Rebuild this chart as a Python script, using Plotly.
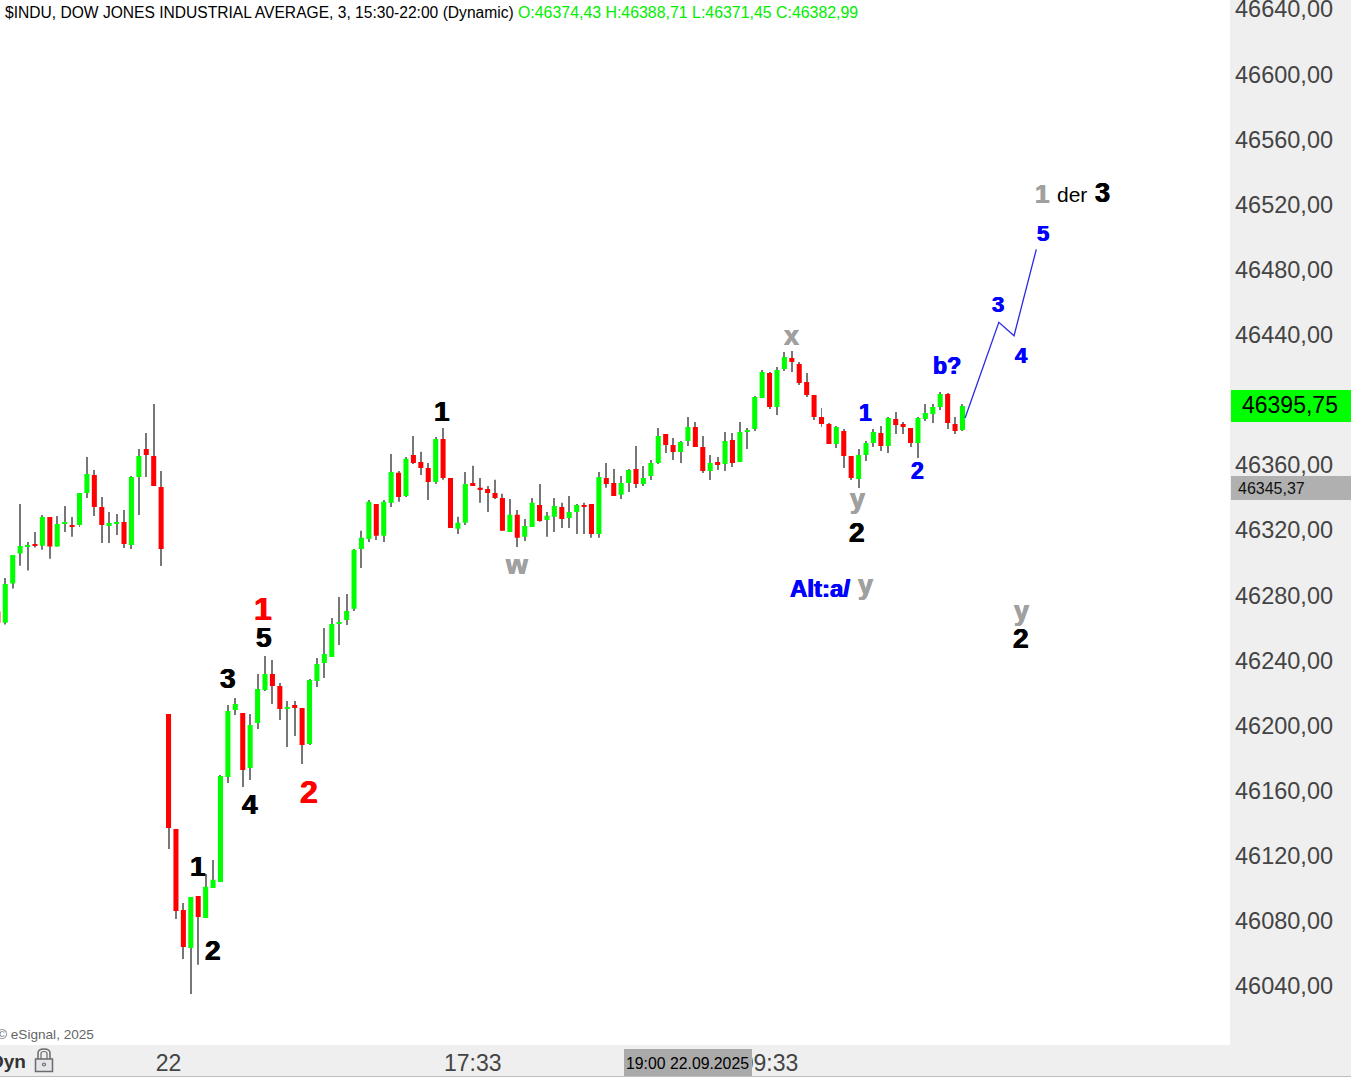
import plotly.graph_objects as go

candle_index = list(range(-1, 130))
open_ = [46270.0,46263.2,46287.2,46305.6,46309.7,46311.5,46310.5,46328.1,46309.9,46323.8,46323.2,46323.2,46342.8,46353.9,46334.2,46322.6,46323.8,46325.0,46310.9,46352.7,46369.9,46365.6,46346.5,
46207.1,46136.5,46086.7,46063.4,46095.3,46081.8,46100.2,46103.9,46168.4,46209.6,46207.7,46173.9,46201.6,46221.8,46231.7,46224.3,46210.2,46212.6,46210.8,46188.7,46227.4,46238.4,46242.1,46262.4,46264.8,46271.7,
46308.5,46314.6,46336.1,46316.5,46336.8,46355.2,46341.0,46366.2,46361.9,46358.2,46349.6,46376.0,46352.1,46320.8,46324.5,46349.0,46346.0,46345.3,46342.9,46339.8,46318.9,46329.4,46315.9,46322.0,46335.5,46326.3,46328.2,46334.3,46327.5,46331.2,46335.5,46336.1,46317.7,46352.1,46349.0,46341.7,
46349.0,46357.6,46348.4,46353.3,46361.3,46379.0,46372.3,46368.0,46374.8,46383.4,46371.1,46356.4,46361.9,46360.6,46375.4,46361.9,46380.3,46382.1,46401.2,46416.5,46395.7,46419.0,46425.7,46422.1,46411.0,
46403.0,46389.5,46385.2,46372.9,46380.9,46365.6,46351.4,46366.2,46373.5,46379.7,46371.7,46388.3,46385.2,46382.8,46373.5,46388.3,46391.4,46395.7,46403.6,46385.2,46381.5]
high = [46270.0,46290.6,46304.8,46336.1,46312.8,46318.9,46329.3,46328.1,46328.7,46334.9,46328.1,46342.8,46364.9,46357.0,46340.4,46331.2,46330.0,46332.4,46353.3,46369.9,46379.7,46397.5,46356.4,
46207.1,46136.5,46091.0,46094.7,46095.3,46108.8,46117.4,46169.6,46212.6,46216.9,46207.7,46207.1,46231.7,46242.7,46240.3,46226.1,46215.1,46215.1,46210.8,46228.6,46241.5,46259.9,46266.0,46278.9,46280.8,46308.5,
46319.6,46338.6,46336.1,46338.6,46366.8,46356.4,46365.0,46377.9,46368.1,46361.3,46377.3,46382.8,46352.1,46328.2,46355.8,46359.5,46352.1,46347.2,46350.9,46342.3,46339.2,46332.4,46326.9,46339.8,46348.4,46331.2,46339.8,46336.8,46341.0,46336.1,46336.8,46336.1,46355.8,46361.3,46357.6,46353.3,
46357.6,46371.7,46359.4,46363.1,46382.8,46379.0,46376.6,46374.8,46389.5,46386.4,46377.8,46366.2,46365.0,46380.3,46379.7,46386.4,46382.8,46402.4,46418.4,46417.1,46420.2,46429.4,46430.0,46423.3,46416.5,
46403.0,46395.0,46385.8,46384.0,46382.1,46365.6,46369.9,46374.8,46382.1,46384.0,46389.5,46392.6,46386.4,46382.8,46389.5,46397.5,46397.5,46404.9,46404.2,46389.5,46397.5]
low = [46263.2,46262.0,46284.1,46298.2,46295.2,46309.3,46308.0,46302.5,46309.9,46318.9,46316.0,46322.0,46339.8,46328.7,46312.1,46312.1,46317.1,46309.1,46308.5,46329.3,46352.7,46347.1,46298.0,
46124.2,46081.2,46056.6,46035.1,46053.0,46081.8,46100.2,46103.9,46164.7,46206.5,46162.3,46166.6,46197.9,46221.2,46213.2,46203.4,46186.8,46193.6,46176.4,46188.1,46223.7,46229.2,46242.1,46249.5,46261.7,46270.4,
46296.8,46312.8,46314.0,46312.8,46334.3,46337.4,46340.4,46360.7,46353.9,46338.6,46348.4,46350.9,46321.4,46317.7,46323.2,46347.2,46336.8,46331.2,46339.2,46319.6,46318.9,46309.7,46313.4,46322.0,46325.1,46315.9,46318.9,46321.4,46321.4,46317.7,46317.7,46315.3,46315.3,46346.0,46341.0,46339.2,
46343.5,46345.9,46347.2,46350.8,46360.6,46367.4,46363.1,46361.3,46371.7,46371.1,46355.1,46350.8,46357.0,46356.4,46358.8,46361.9,46369.9,46380.9,46401.2,46394.4,46390.7,46417.8,46417.1,46409.2,46401.8,
46387.7,46383.4,46372.9,46370.5,46358.2,46350.8,46345.9,46362.5,46371.1,46368.6,46367.4,46379.0,46379.0,46371.1,46364.3,46387.1,46385.8,46393.8,46382.1,46379.0,46380.9]
close = [46263.2,46287.0,46304.8,46310.3,46310.9,46310.3,46328.1,46309.9,46323.8,46325.0,46322.0,46342.8,46354.5,46334.2,46323.2,46324.4,46325.0,46311.5,46352.7,46365.6,46366.2,46347.1,46308.5,
46137.1,46086.1,46064.0,46094.7,46082.4,46100.9,46105.2,46169.0,46208.9,46213.2,46172.7,46200.3,46222.4,46231.7,46224.3,46210.2,46211.4,46210.8,46188.1,46228.0,46237.8,46243.9,46262.4,46263.6,46270.3,46307.9,
46315.3,46337.4,46316.5,46337.4,46355.8,46340.4,46363.8,46361.3,46358.2,46349.6,46376.0,46352.1,46321.4,46324.5,46348.4,46347.2,46344.7,46342.9,46339.8,46319.6,46329.4,46315.3,46322.6,46336.8,46325.7,46328.8,46334.9,46326.9,46331.2,46335.5,46334.3,46317.7,46352.7,46348.4,46341.0,46349.0,
46357.0,46348.4,46352.1,46361.3,46377.8,46372.3,46368.0,46374.2,46383.4,46371.1,46356.4,46361.3,46360.0,46374.8,46361.3,46380.3,46381.5,46401.8,46417.1,46395.7,46418.4,46426.4,46423.3,46410.4,46403.0,
46389.5,46385.2,46372.9,46383.4,46365.6,46352.1,46366.2,46373.5,46380.3,46371.7,46388.9,46384.6,46383.4,46373.5,46388.9,46392.0,46395.7,46403.6,46385.8,46380.9,46396.3]

wave_x = [129.35, 133.9, 135.95, 138.95]
wave_y = [46388.9, 46447.7, 46439.4, 46492.5]

price_ticks = list(range(46040, 46641, 40))
time_tickvals = [22, 63, 103]
time_ticktext = ["22", "17:33", "09:33"]
title_text = "$INDU, DOW JONES INDUSTRIAL AVERAGE, 3, 15:30-22:00 (Dynamic)"
ohlc_text = "O:46374,43 H:46388,71 L:46371,45 C:46382,99"
last_price = "46395,75"
cursor_price = "46345,37"
cursor_time = "19:00 22.09.2025"

W, H, PW, PH = 1351, 1077, 1230, 1045
FONT = "Liberation Sans, Arial, sans-serif"
PANEL = "#efefef"
GREEN, RED, WICK, BLUE, GRAY, BLACK = "#00ff00", "#ff0000", "#777777", "#0000ff", "#a0a0a0", "#000000"

px = lambda v: v / PW
py = lambda v: 1 - v / PH

fig = go.Figure()
fig.add_bar(x=candle_index, y=[h - l for h, l in zip(high, low)], base=low, width=0.135,
            marker=dict(color=WICK, line_width=0), hoverinfo="skip", showlegend=False)
fig.add_candlestick(x=candle_index, open=open_, high=high, low=low, close=close,
                    increasing=dict(line=dict(color=GREEN, width=0), fillcolor=GREEN),
                    decreasing=dict(line=dict(color=RED, width=0), fillcolor=RED),
                    showlegend=False, hoverinfo="skip")
fig.add_scatter(x=wave_x, y=wave_y, mode="lines", line=dict(color="#2a2ae8", width=1.3),
                hoverinfo="skip", showlegend=False)

def label(text, x, y, size, color, bold=True, xanchor="center"):
    t = f"<b>{text}</b>" if bold else text
    f = dict(family=FONT, size=size, color=color)
    if bold and size >= 21:
        f["shadow"] = f"0.6px 0 0 {color}, -0.6px 0 0 {color}"
    fig.add_annotation(text=t, xref="paper", yref="paper", x=px(x), y=py(y), xanchor=xanchor, yanchor="middle",
                       showarrow=False, font=f, borderpad=0, borderwidth=0)

for t, x, y, s, c in [
    ("1", 198, 866, 28, BLACK), ("2", 213, 950, 28, BLACK), ("3", 228, 678, 28, BLACK),
    ("4", 250, 804, 28, BLACK), ("5", 264, 637, 28, BLACK), ("1", 263, 609, 32, RED),
    ("2", 309, 792, 32, RED), ("1", 442, 411, 28, BLACK), ("w", 516, 564, 28, GRAY),
    ("x", 791, 336, 27, GRAY), ("1", 865, 413, 23, BLUE), ("2", 917, 471, 23, BLUE),
    ("b?", 947, 366, 23, BLUE), ("y", 857, 499, 27, GRAY), ("2", 857, 532, 28, BLACK),
    ("Alt:a/", 820, 588, 24, BLUE), ("y", 865, 585, 27, GRAY), ("y", 1021, 611, 27, GRAY),
    ("2", 1021, 638, 28, BLACK), ("3", 998, 304, 22, BLUE), ("4", 1021, 355, 22, BLUE),
    ("5", 1043, 234, 22, BLUE), ("1", 1042, 194, 26, GRAY), ("3", 1102, 193, 27, BLACK),
]:
    label(t, x, y, s, c)
label("der", 1072, 194, 21, BLACK, bold=False)

label(title_text, 5, 12, 15.6, BLACK, bold=False, xanchor="left")
label(ohlc_text, 518, 12, 15.9, "#00ee00", bold=False, xanchor="left")
label("© eSignal, 2025", -3, 1034, 13.6, "#666666", bold=False, xanchor="left")
label("Dyn", 26, 1061, 19, "#333333", xanchor="right")
label(cursor_time, 687.5, 1063, 15.8, BLACK, bold=False)
label(last_price, 1289.5, 405, 23, BLACK, bold=False)
label(cursor_price, 1271.5, 488, 16, "#111111", bold=False)

def box(x0, y0, x1, y1, fill):
    return dict(type="rect", xref="paper", yref="paper", x0=px(x0), x1=px(x1), y0=py(y0), y1=py(y1),
                fillcolor=fill, line_width=0, layer="above")

lock = "#6b6b6b"
shapes = [
    box(1231, 390, 1351, 422, GREEN),
    box(1231, 476, 1351, 500, "#b0b0b0"),
    box(624, 1049, 752, 1077, "#aaaaaa"),
    box(0, 1076, 1351, 1077, "#bdbdbd"),
    dict(type="rect", xref="paper", yref="paper", x0=px(35.5), x1=px(52.5), y0=py(1059), y1=py(1071.5),
         line=dict(color=lock, width=1.5), fillcolor="#e4e6ea", layer="above"),
    dict(type="path", xref="paper", yref="paper", layer="above", line=dict(color=lock, width=1.5),
         path=f"M {px(38)} {py(1059)} L {px(38)} {py(1053)} Q {px(38)} {py(1049)} {px(44)} {py(1049)} "
              f"Q {px(50)} {py(1049)} {px(50)} {py(1053)} L {px(50)} {py(1059)}"),
    dict(type="path", xref="paper", yref="paper", layer="above", line=dict(color=lock, width=1.2),
         path=f"M {px(41)} {py(1059)} L {px(41)} {py(1053.5)} Q {px(41)} {py(1051.5)} {px(44)} {py(1051.5)} "
              f"Q {px(47)} {py(1051.5)} {px(47)} {py(1053.5)} L {px(47)} {py(1059)}"),
    dict(type="circle", xref="paper", yref="paper", x0=px(42.5), x1=px(45.5), y0=py(1063), y1=py(1066),
         line=dict(color=lock, width=1.2), layer="above"),
]

fig.update_layout(
    width=W, height=H, autosize=False,
    margin=dict(l=0, r=W - PW, t=0, b=H - PH, pad=0, autoexpand=False),
    paper_bgcolor=PANEL, plot_bgcolor="#ffffff",
    barmode="overlay", showlegend=False, hovermode=False,
    boxmode="overlay", boxgap=0.32, boxgroupgap=0,
    separators=",.",
    font=dict(family=FONT, color="#444444"),
    shapes=shapes,
    xaxis=dict(range=[-5.3 / 7.42, (PW - 5.3) / 7.42], showgrid=False, zeroline=False, showline=False,
               rangeslider=dict(visible=False), tickmode="array", tickvals=time_tickvals, ticktext=time_ticktext,
               tickfont=dict(family=FONT, size=23, color="#444444"), ticks="", ticklabelstandoff=2, fixedrange=True),
    yaxis=dict(range=[46040 - (H - 32 - 986) / 1.628, 46040 + 986 / 1.628], side="right", showgrid=False, zeroline=False,
               showline=False, tickmode="array", tickvals=price_ticks, tickformat=".2f", ticklabeloverflow="allow",
               tickfont=dict(family=FONT, size=23.5, color="#444444"), ticks="", ticklabelstandoff=4, fixedrange=True),
)

fig.write_html("out.html", config={"displayModeBar": False}, post_script="document.body.style.margin='0';")
